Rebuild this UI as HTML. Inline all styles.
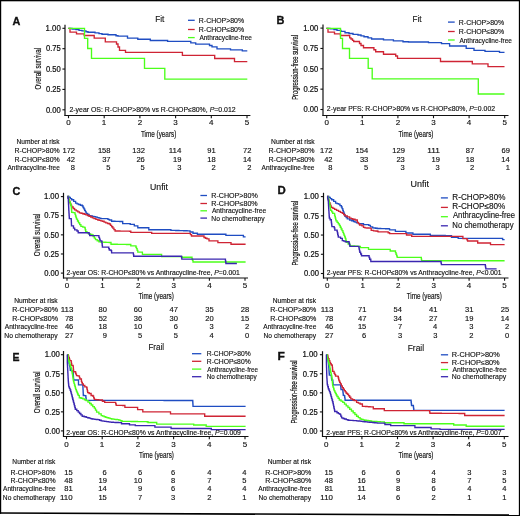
<!DOCTYPE html>
<html><head><meta charset="utf-8"><style>
html,body{margin:0;padding:0;background:#fff;}
body{width:520px;height:516px;overflow:hidden;position:relative;}
svg{position:absolute;left:0;top:0;}
text{font-family:"Liberation Sans",sans-serif;fill:#111;stroke:#111;stroke-width:0.14px;}
.ax{stroke-width:0.18px;}
.lt{stroke-width:0.35px;}
.tk{stroke-width:0.22px;}
.ax2{stroke-width:0.2px;}
</style></head><body>
<svg width="520" height="516" viewBox="0 0 520 516">
<g>
<rect x="0" y="0" width="520" height="516" fill="#fff"/>
<line x1="65.00" y1="24.80" x2="65.00" y2="116.00" stroke="#111" stroke-width="1.2"/>
<line x1="64.50" y1="115.50" x2="250.40" y2="115.50" stroke="#111" stroke-width="1.2"/>
<line x1="62.40" y1="109.80" x2="65.00" y2="109.80" stroke="#111" stroke-width="1.1"/>
<line x1="62.40" y1="89.42" x2="65.00" y2="89.42" stroke="#111" stroke-width="1.1"/>
<line x1="62.40" y1="69.05" x2="65.00" y2="69.05" stroke="#111" stroke-width="1.1"/>
<line x1="62.40" y1="48.67" x2="65.00" y2="48.67" stroke="#111" stroke-width="1.1"/>
<line x1="62.40" y1="28.30" x2="65.00" y2="28.30" stroke="#111" stroke-width="1.1"/>
<line x1="68.50" y1="115.50" x2="68.50" y2="118.20" stroke="#111" stroke-width="1.1"/>
<line x1="104.20" y1="115.50" x2="104.20" y2="118.20" stroke="#111" stroke-width="1.1"/>
<line x1="139.90" y1="115.50" x2="139.90" y2="118.20" stroke="#111" stroke-width="1.1"/>
<line x1="175.60" y1="115.50" x2="175.60" y2="118.20" stroke="#111" stroke-width="1.1"/>
<line x1="211.30" y1="115.50" x2="211.30" y2="118.20" stroke="#111" stroke-width="1.1"/>
<line x1="247.00" y1="115.50" x2="247.00" y2="118.20" stroke="#111" stroke-width="1.1"/>
<line x1="188.00" y1="20.30" x2="194.70" y2="20.30" stroke="#1f4dc2" stroke-width="1.3"/>
<line x1="188.00" y1="29.50" x2="194.70" y2="29.50" stroke="#cf2434" stroke-width="1.3"/>
<line x1="188.00" y1="37.60" x2="194.70" y2="37.60" stroke="#4cff1a" stroke-width="1.3"/>
<path d="M68.4 28.4 H72 V29 H76 V29.6 H79 V30.4 H82 V30.9 H86 V31.7 H88 V32.2 H95 V32.8 H99 V33.6 H102 V34.2 H108 V34.7 H116 V35.7 H118 V36.1 H127.5 V38.1 H137.8 V39.2 H150.3 V40.5 H167.6 V41.3 H190.8 V42.8 H195.7 V44.1 H209.5 V45.5 H212 V46.8 H217 V48.8 H230.5 V49.9 H242.3 V50.9 H247.3" stroke="#1f4dc2" stroke-width="1.35" fill="none"/>
<path d="M68.4 28.4 H70 V32.1 H76.5 V33.8 H84.2 V35.5 H94.2 V38.1 H105.3 V41.9 H116.5 V44 H118 V47 H119.5 V50.3 H125.5 V52.4 H182.4 V55.3 H214.7 V58.5 H234.5 V61.6 H247.3" stroke="#cf2434" stroke-width="1.35" fill="none"/>
<path d="M68.4 28.4 H84.5 V38.4 H87.7 V48.5 H91.5 V58.4 H144.5 V68.4 H164.8 V79.1 H247.3" stroke="#4cff1a" stroke-width="1.35" fill="none"/>
<line x1="323.00" y1="24.50" x2="323.00" y2="116.00" stroke="#111" stroke-width="1.2"/>
<line x1="322.50" y1="115.50" x2="508.50" y2="115.50" stroke="#111" stroke-width="1.2"/>
<line x1="320.40" y1="109.50" x2="323.00" y2="109.50" stroke="#111" stroke-width="1.1"/>
<line x1="320.40" y1="89.15" x2="323.00" y2="89.15" stroke="#111" stroke-width="1.1"/>
<line x1="320.40" y1="68.80" x2="323.00" y2="68.80" stroke="#111" stroke-width="1.1"/>
<line x1="320.40" y1="48.45" x2="323.00" y2="48.45" stroke="#111" stroke-width="1.1"/>
<line x1="320.40" y1="28.10" x2="323.00" y2="28.10" stroke="#111" stroke-width="1.1"/>
<line x1="326.70" y1="115.50" x2="326.70" y2="118.20" stroke="#111" stroke-width="1.1"/>
<line x1="362.30" y1="115.50" x2="362.30" y2="118.20" stroke="#111" stroke-width="1.1"/>
<line x1="397.90" y1="115.50" x2="397.90" y2="118.20" stroke="#111" stroke-width="1.1"/>
<line x1="433.50" y1="115.50" x2="433.50" y2="118.20" stroke="#111" stroke-width="1.1"/>
<line x1="469.10" y1="115.50" x2="469.10" y2="118.20" stroke="#111" stroke-width="1.1"/>
<line x1="504.70" y1="115.50" x2="504.70" y2="118.20" stroke="#111" stroke-width="1.1"/>
<line x1="448.00" y1="22.10" x2="454.70" y2="22.10" stroke="#1f4dc2" stroke-width="1.3"/>
<line x1="448.00" y1="31.50" x2="454.70" y2="31.50" stroke="#cf2434" stroke-width="1.3"/>
<line x1="448.00" y1="40.00" x2="454.70" y2="40.00" stroke="#4cff1a" stroke-width="1.3"/>
<path d="M326.4 28.4 H330 V28.8 H334 V29.5 H337 V30.3 H341 V31.3 H345 V32.7 H349 V33.5 H353 V34.4 H358 V35 H361 V35.8 H364 V36.7 H368 V37.8 H371.6 V39 H383.5 V39.9 H393.4 V40.9 H403 V41.7 H408.5 V42 H428.5 V42.6 H441.5 V43.6 H449.6 V46 H466.2 V48.3 H474 V50.4 H485 V51.4 H499.5 V52.4 H504.5" stroke="#1f4dc2" stroke-width="1.35" fill="none"/>
<path d="M326.4 28.4 H328 V32.1 H334.5 V33.8 H340.5 V35.5 H349.7 V37.8 H351 V39 H352.5 V40.3 H353.7 V41.5 H359.5 V43.5 H361 V45.5 H363.5 V47.7 H373.9 V49.7 H375.7 V51.7 H383.5 V54.2 H395.7 V56 H397.5 V58.4 H440.5 V61.5 H472.3 V63.9 H488 V66.6 H504.5" stroke="#cf2434" stroke-width="1.35" fill="none"/>
<path d="M326.4 28.4 H340.5 V38.4 H342.5 V48.5 H349.5 V58.4 H368.2 V68.4 H372.2 V78.9 H478.3 V94 H504.5" stroke="#4cff1a" stroke-width="1.35" fill="none"/>
<line x1="63.50" y1="192.80" x2="63.50" y2="278.50" stroke="#111" stroke-width="1.2"/>
<line x1="63.00" y1="278.00" x2="248.00" y2="278.00" stroke="#111" stroke-width="1.2"/>
<line x1="60.90" y1="273.10" x2="63.50" y2="273.10" stroke="#111" stroke-width="1.1"/>
<line x1="60.90" y1="253.98" x2="63.50" y2="253.98" stroke="#111" stroke-width="1.1"/>
<line x1="60.90" y1="234.85" x2="63.50" y2="234.85" stroke="#111" stroke-width="1.1"/>
<line x1="60.90" y1="215.72" x2="63.50" y2="215.72" stroke="#111" stroke-width="1.1"/>
<line x1="60.90" y1="196.60" x2="63.50" y2="196.60" stroke="#111" stroke-width="1.1"/>
<line x1="67.00" y1="278.00" x2="67.00" y2="280.70" stroke="#111" stroke-width="1.1"/>
<line x1="102.60" y1="278.00" x2="102.60" y2="280.70" stroke="#111" stroke-width="1.1"/>
<line x1="138.20" y1="278.00" x2="138.20" y2="280.70" stroke="#111" stroke-width="1.1"/>
<line x1="173.80" y1="278.00" x2="173.80" y2="280.70" stroke="#111" stroke-width="1.1"/>
<line x1="209.40" y1="278.00" x2="209.40" y2="280.70" stroke="#111" stroke-width="1.1"/>
<line x1="245.00" y1="278.00" x2="245.00" y2="280.70" stroke="#111" stroke-width="1.1"/>
<line x1="200.40" y1="195.50" x2="207.00" y2="195.50" stroke="#1f4dc2" stroke-width="1.3"/>
<line x1="200.40" y1="203.50" x2="207.00" y2="203.50" stroke="#cf2434" stroke-width="1.3"/>
<line x1="200.40" y1="210.80" x2="207.00" y2="210.80" stroke="#4cff1a" stroke-width="1.3"/>
<line x1="200.40" y1="218.10" x2="207.00" y2="218.10" stroke="#3a26b0" stroke-width="1.3"/>
<path d="M67.50 196.30 H68.90 V197.43 H70.30 V198.57 H71.70 V199.70 H73.65 V201.40 H75.60 V203.10 H77.05 V203.80 H78.50 V204.50 H80.40 V205.25 H82.30 V206.00 H83.08 V207.46 H83.86 V208.92 H84.64 V210.38 H85.42 V211.84 H86.20 V213.30 H87.65 V214.50 H89.10 V215.70 H90.73 V216.00 H92.37 V216.30 H94.00 V216.60 H95.70 V217.10 H97.40 V217.60 H99.10 V218.10 H100.80 V218.60 H106.60 H107.95 V219.30 H109.30 V220.00 H111.60 V221.20 H113.25 V221.25 H114.90 V221.30 H116.55 V221.35 H118.20 V221.40 H119.85 V221.45 H121.50 V221.50 H122.70 V223.60 H129.60 H130.20 V224.40 H133.10 H134.30 V225.90 H136.60 H137.80 V227.70 H147.10 H148.80 V229.70 H169.20 H170.90 V230.30 H172.51 V230.35 H174.12 V230.41 H175.73 V230.46 H177.34 V230.52 H178.95 V230.57 H180.55 V230.63 H182.16 V230.68 H183.77 V230.74 H185.38 V230.79 H186.99 V230.85 H188.60 V230.90 H190.00 V232.00 H192.30 H193.00 V233.20 H195.90 H197.40 V234.20 H225.20 H225.90 V235.40 H242.70 H243.40 V236.90 H245.60" stroke="#1f4dc2" stroke-width="1.35" fill="none"/>
<path d="M67.50 196.30 H68.08 V197.88 H68.65 V199.45 H69.22 V201.03 H69.80 V202.60 H70.43 V204.07 H71.07 V205.53 H71.70 V207.00 H73.15 V208.45 H74.60 V209.90 H76.20 V210.87 H77.80 V211.83 H79.40 V212.80 H81.03 V213.27 H82.67 V213.73 H84.30 V214.20 H85.90 V214.87 H87.50 V215.53 H89.10 V216.20 H90.73 V217.00 H92.37 V217.80 H94.00 V218.60 H95.90 V219.30 H97.80 V220.00 H99.33 V220.40 H100.87 V220.80 H102.40 V221.20 H104.10 V222.05 H105.80 V222.90 H107.55 V223.45 H109.30 V224.00 H110.47 V225.37 H111.63 V226.73 H112.80 V228.10 H113.95 V229.55 H115.10 V231.00 H116.71 V231.02 H118.32 V231.04 H119.93 V231.07 H121.54 V231.09 H123.16 V231.11 H124.77 V231.13 H126.38 V231.16 H127.99 V231.18 H129.60 V231.20 H130.80 V232.30 H151.10 H151.70 V233.30 H189.40 H190.45 V234.65 H191.50 V236.00 H202.50 H204.00 V237.50 H205.50 V238.20 H207.00 V238.90 H209.00 V240.80 H217.10 H217.90 V242.60 H230.30 H231.00 V244.20 H245.60" stroke="#cf2434" stroke-width="1.35" fill="none"/>
<path d="M67.50 196.30 H68.10 V198.07 H68.70 V199.83 H69.30 V201.60 H70.20 V203.60 H70.70 V205.05 H71.20 V206.50 H71.33 V207.95 H71.45 V209.40 H71.58 V210.85 H71.70 V212.30 H73.15 V212.55 H74.60 V212.80 H75.07 V214.38 H75.55 V215.95 H76.03 V217.53 H76.50 V219.10 H77.50 V221.00 H78.50 V222.90 H79.70 V224.60 H80.90 V226.30 H82.85 V227.05 H84.80 V227.80 H85.25 V229.75 H85.70 V231.70 H86.95 V232.65 H88.20 V233.60 H89.10 V233.80 H90.55 V234.40 H92.00 V235.00 H93.17 V236.53 H94.33 V238.07 H95.50 V239.60 H97.20 V240.75 H98.90 V241.90 H100.63 V242.00 H102.37 V242.10 H104.10 V242.20 H105.83 V242.30 H107.57 V242.40 H109.30 V242.50 H111.00 V244.20 H112.55 V244.22 H114.10 V244.25 H115.65 V244.27 H117.20 V244.30 H118.75 V244.32 H120.30 V244.35 H121.85 V244.38 H123.40 V244.40 H124.95 V244.43 H126.50 V244.45 H128.05 V244.47 H129.60 V244.50 H130.80 V245.90 H135.40 H135.95 V247.25 H136.50 V248.60 H137.15 V250.35 H137.80 V252.10 H141.30 H142.40 V254.40 H161.00 H161.60 V256.60 H181.30 H182.00 V257.20 H191.50 H192.00 V258.80 H192.50 V260.40 H193.00 V262.00 H245.60" stroke="#4cff1a" stroke-width="1.35" fill="none"/>
<path d="M67.50 196.30 H67.90 V198.00 H68.30 V199.70 H68.37 V201.21 H68.44 V202.73 H68.51 V204.24 H68.59 V205.76 H68.66 V207.27 H68.73 V208.79 H68.80 V210.30 H68.90 V211.96 H69.00 V213.62 H69.10 V215.28 H69.20 V216.94 H69.30 V218.60 H71.20 V219.10 H71.28 V220.78 H71.35 V222.45 H71.42 V224.12 H71.50 V225.80 H73.50 V228.10 H74.70 V229.80 H77.00 V231.00 H78.20 V232.70 H88.50 H89.10 V234.15 H89.70 V235.60 H98.30 H98.90 V237.33 H99.50 V239.07 H100.10 V240.80 H101.80 V241.90 H102.00 V243.63 H102.20 V245.37 H102.40 V247.10 H108.20 H108.75 V248.55 H109.30 V250.00 H111.00 V250.60 H111.60 V252.90 H133.10 H133.40 V254.55 H133.70 V256.20 H181.30 H181.55 V257.65 H181.80 V259.10 H225.20 H225.43 V260.57 H225.67 V262.03 H225.90 V263.50 H236.90" stroke="#3a26b0" stroke-width="1.35" fill="none"/>
<line x1="323.50" y1="192.80" x2="323.50" y2="278.50" stroke="#111" stroke-width="1.2"/>
<line x1="323.00" y1="278.00" x2="508.50" y2="278.00" stroke="#111" stroke-width="1.2"/>
<line x1="320.90" y1="273.50" x2="323.50" y2="273.50" stroke="#111" stroke-width="1.1"/>
<line x1="320.90" y1="254.28" x2="323.50" y2="254.28" stroke="#111" stroke-width="1.1"/>
<line x1="320.90" y1="235.05" x2="323.50" y2="235.05" stroke="#111" stroke-width="1.1"/>
<line x1="320.90" y1="215.82" x2="323.50" y2="215.82" stroke="#111" stroke-width="1.1"/>
<line x1="320.90" y1="196.60" x2="323.50" y2="196.60" stroke="#111" stroke-width="1.1"/>
<line x1="327.30" y1="278.00" x2="327.30" y2="280.70" stroke="#111" stroke-width="1.1"/>
<line x1="362.75" y1="278.00" x2="362.75" y2="280.70" stroke="#111" stroke-width="1.1"/>
<line x1="398.20" y1="278.00" x2="398.20" y2="280.70" stroke="#111" stroke-width="1.1"/>
<line x1="433.65" y1="278.00" x2="433.65" y2="280.70" stroke="#111" stroke-width="1.1"/>
<line x1="469.10" y1="278.00" x2="469.10" y2="280.70" stroke="#111" stroke-width="1.1"/>
<line x1="504.55" y1="278.00" x2="504.55" y2="280.70" stroke="#111" stroke-width="1.1"/>
<line x1="440.90" y1="197.90" x2="447.90" y2="197.90" stroke="#1f4dc2" stroke-width="1.3"/>
<line x1="440.90" y1="207.40" x2="447.90" y2="207.40" stroke="#cf2434" stroke-width="1.3"/>
<line x1="440.90" y1="216.70" x2="447.90" y2="216.70" stroke="#4cff1a" stroke-width="1.3"/>
<line x1="440.90" y1="225.80" x2="447.90" y2="225.80" stroke="#3a26b0" stroke-width="1.3"/>
<path d="M327.30 196.30 H328.77 V197.43 H330.23 V198.57 H331.70 V199.70 H333.65 V201.40 H335.60 V203.10 H337.05 V203.60 H338.50 V204.10 H339.95 V205.55 H341.40 V207.00 H342.10 V208.65 H342.80 V210.30 H343.35 V211.80 H343.90 V213.30 H344.45 V214.80 H345.00 V216.30 H346.15 V217.55 H347.30 V218.80 H349.60 V220.00 H351.55 V220.75 H353.50 V221.50 H355.00 V222.10 H356.50 V222.70 H358.50 V223.60 H360.40 V223.65 H362.30 V223.70 H363.50 V224.60 H366.50 H368.80 V225.40 H370.40 V226.90 H372.70 V227.80 H374.23 V228.03 H375.77 V228.27 H377.30 V228.50 H378.97 V228.54 H380.64 V228.59 H382.31 V228.63 H383.99 V228.67 H385.66 V228.71 H387.33 V228.76 H389.00 V228.80 H389.60 V229.90 H394.30 H395.40 V231.30 H404.70 H405.90 V233.00 H411.70 H412.90 V234.20 H429.20 H430.30 V235.40 H431.96 V235.42 H433.62 V235.43 H435.27 V235.45 H436.93 V235.47 H438.59 V235.48 H440.25 V235.50 H441.91 V235.52 H443.57 V235.53 H445.23 V235.55 H446.88 V235.57 H448.54 V235.58 H450.20 V235.60 H451.50 V237.20 H456.90 H458.20 V238.30 H502.00 H502.60 V239.60 H504.60" stroke="#1f4dc2" stroke-width="1.35" fill="none"/>
<path d="M327.30 196.30 H327.80 V197.88 H328.30 V199.45 H328.80 V201.03 H329.30 V202.60 H329.93 V204.20 H330.57 V205.80 H331.20 V207.40 H332.90 V208.40 H334.60 V209.40 H336.55 V210.35 H338.50 V211.30 H340.40 V212.30 H342.30 V213.30 H343.65 V214.55 H345.00 V215.80 H347.30 V216.90 H349.60 V218.10 H351.15 V218.65 H352.70 V219.20 H355.00 V220.00 H357.30 V222.30 H358.45 V223.65 H359.60 V225.00 H361.90 V225.80 H363.50 V227.30 H365.00 V227.80 H366.90 V227.95 H368.80 V228.10 H371.20 V230.40 H373.50 V230.80 H375.40 V231.00 H377.30 V231.20 H378.10 V231.90 H386.70 H388.15 V232.75 H389.60 V233.60 H405.30 H406.50 V235.00 H411.10 H411.70 V236.40 H462.30 H462.90 V238.60 H466.30 H466.95 V239.80 H467.60 V241.00 H477.10 H477.70 V243.00 H489.90 H490.50 V244.60 H504.60" stroke="#cf2434" stroke-width="1.35" fill="none"/>
<path d="M327.30 196.30 H327.80 V197.77 H328.30 V199.23 H328.80 V200.70 H329.15 V202.38 H329.50 V204.05 H329.85 V205.72 H330.20 V207.40 H330.45 V208.85 H330.70 V210.30 H331.70 V211.80 H332.70 V213.30 H334.60 V215.20 H334.95 V216.60 H335.30 V218.00 H335.65 V219.40 H336.00 V220.80 H337.13 V222.37 H338.27 V223.93 H339.40 V225.50 H340.27 V227.22 H341.15 V228.95 H342.02 V230.68 H342.90 V232.40 H343.50 V233.88 H344.10 V235.35 H344.70 V236.83 H345.30 V238.30 H345.85 V240.30 H346.40 V242.30 H348.15 V244.05 H349.90 V245.80 H351.45 V245.90 H353.00 V246.00 H354.55 V246.10 H356.10 V246.20 H357.65 V246.30 H359.20 V246.40 H360.40 V247.60 H367.30 H368.50 V249.30 H389.00 H390.20 V251.00 H394.90 H395.47 V252.60 H396.05 V254.20 H396.62 V255.80 H397.20 V257.40 H421.00 H421.30 V259.05 H421.60 V260.70 H504.60" stroke="#4cff1a" stroke-width="1.35" fill="none"/>
<path d="M327.30 196.30 H327.63 V198.07 H327.97 V199.83 H328.30 V201.60 H328.40 V203.34 H328.50 V205.08 H328.60 V206.82 H328.70 V208.56 H328.80 V210.30 H328.90 V211.86 H329.00 V213.42 H329.10 V214.98 H329.20 V216.54 H329.30 V218.10 H330.10 V219.70 H331.30 V222.00 H331.50 V223.53 H331.70 V225.07 H331.90 V226.60 H334.20 V227.80 H334.80 V230.10 H337.10 V231.30 H337.40 V232.75 H337.70 V234.20 H338.00 V235.65 H338.30 V237.10 H340.60 V238.30 H342.30 V240.60 H343.80 V241.15 H345.30 V241.70 H348.70 H349.10 V243.27 H349.50 V244.83 H349.90 V246.40 H358.60 H358.90 V247.85 H359.20 V249.30 H359.50 V250.75 H359.80 V252.20 H360.65 V253.95 H361.50 V255.70 H368.50 H369.10 V257.45 H369.70 V259.20 H370.80 V261.50 H440.70 H441.05 V263.05 H441.40 V264.60 H485.10 H485.33 V266.00 H485.57 V267.40 H485.80 V268.80 H496.60" stroke="#3a26b0" stroke-width="1.35" fill="none"/>
<line x1="63.50" y1="351.00" x2="63.50" y2="437.00" stroke="#111" stroke-width="1.2"/>
<line x1="63.00" y1="436.50" x2="248.50" y2="436.50" stroke="#111" stroke-width="1.2"/>
<line x1="60.90" y1="430.90" x2="63.50" y2="430.90" stroke="#111" stroke-width="1.1"/>
<line x1="60.90" y1="411.85" x2="63.50" y2="411.85" stroke="#111" stroke-width="1.1"/>
<line x1="60.90" y1="392.80" x2="63.50" y2="392.80" stroke="#111" stroke-width="1.1"/>
<line x1="60.90" y1="373.75" x2="63.50" y2="373.75" stroke="#111" stroke-width="1.1"/>
<line x1="60.90" y1="354.70" x2="63.50" y2="354.70" stroke="#111" stroke-width="1.1"/>
<line x1="66.50" y1="436.50" x2="66.50" y2="439.20" stroke="#111" stroke-width="1.1"/>
<line x1="102.20" y1="436.50" x2="102.20" y2="439.20" stroke="#111" stroke-width="1.1"/>
<line x1="137.90" y1="436.50" x2="137.90" y2="439.20" stroke="#111" stroke-width="1.1"/>
<line x1="173.60" y1="436.50" x2="173.60" y2="439.20" stroke="#111" stroke-width="1.1"/>
<line x1="209.30" y1="436.50" x2="209.30" y2="439.20" stroke="#111" stroke-width="1.1"/>
<line x1="245.00" y1="436.50" x2="245.00" y2="439.20" stroke="#111" stroke-width="1.1"/>
<line x1="192.00" y1="353.70" x2="201.30" y2="353.70" stroke="#1f4dc2" stroke-width="1.3"/>
<line x1="192.00" y1="361.30" x2="201.30" y2="361.30" stroke="#cf2434" stroke-width="1.3"/>
<line x1="192.00" y1="369.10" x2="201.30" y2="369.10" stroke="#4cff1a" stroke-width="1.3"/>
<line x1="192.00" y1="376.70" x2="201.30" y2="376.70" stroke="#3a26b0" stroke-width="1.3"/>
<path d="M67.30 354.60 H67.63 V356.30 H67.97 V358.00 H68.30 V359.70 H68.63 V361.40 H68.97 V363.10 H69.30 V364.80 H69.65 V366.15 H70.00 V367.50 H70.15 V368.90 H70.30 V370.30 H71.50 V370.80 H72.70 V371.30 H72.95 V372.75 H73.20 V374.20 H73.30 V375.65 H73.40 V377.10 H73.50 V378.55 H73.60 V380.00 H78.50 V384.80 H82.80 H82.87 V386.33 H82.94 V387.86 H83.01 V389.39 H83.09 V390.91 H83.16 V392.44 H83.23 V393.97 H83.30 V395.50 H84.50 V395.65 H85.70 V395.80 H85.87 V397.30 H86.03 V398.80 H86.20 V400.30 H87.79 V400.30 H89.38 V400.31 H90.97 V400.31 H92.56 V400.31 H94.15 V400.31 H95.74 V400.32 H97.33 V400.32 H98.92 V400.32 H100.51 V400.33 H102.10 V400.33 H103.69 V400.33 H105.27 V400.34 H106.86 V400.34 H108.45 V400.34 H110.04 V400.34 H111.63 V400.35 H113.22 V400.35 H114.81 V400.35 H116.40 V400.36 H117.99 V400.36 H119.58 V400.36 H121.17 V400.37 H122.76 V400.37 H124.35 V400.37 H125.94 V400.37 H127.53 V400.38 H129.12 V400.38 H130.71 V400.38 H132.30 V400.39 H133.89 V400.39 H135.48 V400.39 H137.07 V400.40 H138.66 V400.40 H140.24 V400.40 H141.83 V400.40 H143.42 V400.41 H145.01 V400.41 H146.60 V400.41 H148.19 V400.42 H149.78 V400.42 H151.37 V400.42 H152.96 V400.43 H154.55 V400.43 H156.14 V400.43 H157.73 V400.43 H159.32 V400.44 H160.91 V400.44 H162.50 V400.44 H164.09 V400.45 H165.68 V400.45 H167.27 V400.45 H168.86 V400.46 H170.45 V400.46 H172.04 V400.46 H173.63 V400.46 H175.21 V400.47 H176.80 V400.47 H178.39 V400.47 H179.98 V400.48 H181.57 V400.48 H183.16 V400.48 H184.75 V400.49 H186.34 V400.49 H187.93 V400.49 H189.52 V400.49 H191.11 V400.50 H192.70 V400.50 H192.77 V401.98 H192.85 V403.45 H192.93 V404.92 H193.00 V406.40 H245.60" stroke="#1f4dc2" stroke-width="1.35" fill="none"/>
<path d="M67.80 354.60 H68.30 V356.15 H68.80 V357.70 H69.30 V359.15 H69.80 V360.60 H71.20 V362.10 H71.45 V363.75 H71.70 V365.40 H73.10 V366.40 H73.27 V368.17 H73.43 V369.93 H73.60 V371.70 H75.60 V373.20 H76.05 V374.40 H76.50 V375.60 H77.75 V375.85 H79.00 V376.10 H79.45 V377.55 H79.90 V379.00 H81.40 V381.40 H81.85 V382.65 H82.30 V383.90 H83.30 V385.30 H84.80 V386.80 H86.70 V387.70 H87.03 V389.33 H87.37 V390.97 H87.70 V392.60 H89.10 V393.50 H91.10 V395.50 H93.00 V396.20 H93.65 V397.80 H94.30 V399.40 H95.75 V399.55 H97.20 V399.70 H98.65 V399.85 H100.10 V400.00 H102.40 V401.20 H104.70 V402.30 H115.10 H115.65 V403.80 H116.20 V405.30 H117.82 V405.34 H119.44 V405.38 H121.06 V405.42 H122.68 V405.46 H124.30 V405.50 H124.90 V407.30 H137.00 H137.60 V409.60 H142.20 H142.80 V411.80 H169.90 H170.50 V413.90 H204.00 H204.70 V416.20 H245.60" stroke="#cf2434" stroke-width="1.35" fill="none"/>
<path d="M67.80 354.60 H67.97 V356.27 H68.13 V357.93 H68.30 V359.60 H68.80 V361.23 H69.30 V362.87 H69.80 V364.50 H70.28 V365.95 H70.75 V367.40 H71.22 V368.85 H71.70 V370.30 H71.95 V371.75 H72.20 V373.20 H72.45 V374.65 H72.70 V376.10 H72.92 V377.55 H73.15 V379.00 H73.38 V380.45 H73.60 V381.90 H74.04 V383.44 H74.48 V384.98 H74.92 V386.52 H75.36 V388.06 H75.80 V389.60 H76.40 V391.05 H77.00 V392.50 H77.60 V393.95 H78.20 V395.40 H79.30 V397.70 H81.05 V398.25 H82.80 V398.80 H84.50 V399.70 H86.20 V400.60 H87.95 V402.05 H89.70 V403.50 H91.23 V405.03 H92.77 V406.57 H94.30 V408.10 H95.45 V410.10 H96.60 V412.10 H98.90 V413.80 H101.20 V415.60 H102.73 V416.17 H104.27 V416.73 H105.80 V417.30 H107.25 V417.73 H108.70 V418.15 H110.15 V418.57 H111.60 V419.00 H113.05 V419.15 H114.50 V419.30 H115.95 V419.45 H117.40 V419.60 H118.93 V420.17 H120.47 V420.73 H122.00 V421.30 H123.55 V421.32 H125.10 V421.35 H126.65 V421.38 H128.20 V421.40 H129.75 V421.43 H131.30 V421.45 H132.85 V421.48 H134.40 V421.50 H135.95 V421.52 H137.50 V421.55 H139.05 V421.57 H140.60 V421.60 H142.15 V421.62 H143.70 V421.65 H145.25 V421.68 H146.80 V421.70 H148.00 V422.50 H156.10 H156.70 V424.10 H193.00 H193.70 V425.00 H205.40 H206.20 V426.30 H245.60" stroke="#4cff1a" stroke-width="1.35" fill="none"/>
<path d="M67.30 354.60 V362.50 H67.38 V364.12 H67.47 V365.73 H67.55 V367.35 H67.63 V368.97 H67.72 V370.58 H67.80 V372.20 H67.88 V373.82 H67.97 V375.43 H68.05 V377.05 H68.13 V378.67 H68.22 V380.28 H68.30 V381.90 H68.47 V383.53 H68.63 V385.17 H68.80 V386.80 H69.43 V388.40 H70.07 V390.00 H70.70 V391.60 H71.10 V393.13 H71.50 V394.66 H71.90 V396.19 H72.30 V397.71 H72.70 V399.24 H73.10 V400.77 H73.50 V402.30 H73.95 V404.02 H74.40 V405.75 H74.85 V407.48 H75.30 V409.20 H76.75 V410.65 H78.20 V412.10 H79.53 V413.47 H80.87 V414.83 H82.20 V416.20 H84.20 V416.75 H86.20 V417.30 H87.65 V417.73 H89.10 V418.15 H90.55 V418.57 H92.00 V419.00 H93.45 V419.15 H94.90 V419.30 H96.35 V419.45 H97.80 V419.60 H99.50 V420.20 H101.20 V420.80 H102.95 V421.07 H104.70 V421.35 H106.45 V421.62 H108.20 V421.90 H109.92 V422.05 H111.65 V422.20 H113.38 V422.35 H115.10 V422.50 H116.83 V422.53 H118.57 V422.57 H120.30 V422.60 H121.50 V423.70 H128.40 H129.50 V424.80 H134.00 H135.30 V425.60 H153.80 H154.90 V427.10 H168.80 H171.10 V428.50 H210.50 H211.30 V429.60 H245.60" stroke="#3a26b0" stroke-width="1.35" fill="none"/>
<line x1="322.50" y1="351.20" x2="322.50" y2="437.00" stroke="#111" stroke-width="1.2"/>
<line x1="322.00" y1="436.50" x2="508.50" y2="436.50" stroke="#111" stroke-width="1.2"/>
<line x1="319.90" y1="431.00" x2="322.50" y2="431.00" stroke="#111" stroke-width="1.1"/>
<line x1="319.90" y1="411.93" x2="322.50" y2="411.93" stroke="#111" stroke-width="1.1"/>
<line x1="319.90" y1="392.85" x2="322.50" y2="392.85" stroke="#111" stroke-width="1.1"/>
<line x1="319.90" y1="373.77" x2="322.50" y2="373.77" stroke="#111" stroke-width="1.1"/>
<line x1="319.90" y1="354.70" x2="322.50" y2="354.70" stroke="#111" stroke-width="1.1"/>
<line x1="326.30" y1="436.50" x2="326.30" y2="439.20" stroke="#111" stroke-width="1.1"/>
<line x1="361.90" y1="436.50" x2="361.90" y2="439.20" stroke="#111" stroke-width="1.1"/>
<line x1="397.50" y1="436.50" x2="397.50" y2="439.20" stroke="#111" stroke-width="1.1"/>
<line x1="433.10" y1="436.50" x2="433.10" y2="439.20" stroke="#111" stroke-width="1.1"/>
<line x1="468.70" y1="436.50" x2="468.70" y2="439.20" stroke="#111" stroke-width="1.1"/>
<line x1="504.30" y1="436.50" x2="504.30" y2="439.20" stroke="#111" stroke-width="1.1"/>
<line x1="440.90" y1="354.80" x2="448.10" y2="354.80" stroke="#1f4dc2" stroke-width="1.3"/>
<line x1="440.90" y1="362.60" x2="448.10" y2="362.60" stroke="#cf2434" stroke-width="1.3"/>
<line x1="440.90" y1="369.50" x2="448.10" y2="369.50" stroke="#4cff1a" stroke-width="1.3"/>
<line x1="440.90" y1="376.70" x2="448.10" y2="376.70" stroke="#3a26b0" stroke-width="1.3"/>
<path d="M326.40 354.60 H326.85 V356.15 H327.30 V357.70 H327.63 V359.30 H327.97 V360.90 H328.30 V362.50 H328.47 V364.13 H328.63 V365.77 H328.80 V367.40 H328.90 V368.94 H329.00 V370.48 H329.10 V372.02 H329.20 V373.56 H329.30 V375.10 H331.20 V375.60 H331.37 V377.07 H331.53 V378.53 H331.70 V380.00 H332.70 V381.00 H332.90 V382.90 H333.10 V384.80 H340.50 H340.67 V386.40 H340.83 V388.00 H341.00 V389.60 H342.80 V390.80 H342.97 V392.33 H343.13 V393.87 H343.30 V395.40 H344.50 V396.00 H344.70 V397.40 H344.90 V398.80 H345.10 V400.20 H410.90 H411.10 V401.97 H411.30 V403.73 H411.50 V405.50 H413.20 H413.40 V407.13 H413.60 V408.77 H413.80 V410.40 H504.60" stroke="#1f4dc2" stroke-width="1.35" fill="none"/>
<path d="M327.30 354.60 H327.63 V355.97 H327.97 V357.33 H328.30 V358.70 H329.05 V360.60 H329.80 V362.50 H330.50 V363.75 H331.20 V365.00 H332.20 V365.90 H332.37 V367.70 H332.53 V369.50 H332.70 V371.30 H334.10 V373.20 H334.85 V374.65 H335.60 V376.10 H338.00 V376.60 H338.33 V378.03 H338.67 V379.47 H339.00 V380.90 H339.70 V382.40 H340.40 V383.90 H341.35 V385.80 H342.30 V387.70 H343.30 V389.15 H344.30 V390.60 H345.25 V391.90 H346.20 V393.20 H347.40 V394.20 H348.53 V395.73 H349.67 V397.27 H350.80 V398.80 H352.55 V399.70 H354.30 V400.60 H356.60 V402.30 H358.35 V403.15 H360.10 V404.00 H362.40 V406.30 H363.93 V406.40 H365.47 V406.50 H367.00 V406.60 H368.53 V406.70 H370.07 V406.80 H371.60 V406.90 H373.30 V408.70 H383.80 H384.30 V410.60 H429.30 H429.60 V411.90 H429.90 V413.20 H431.52 V413.21 H433.15 V413.23 H434.77 V413.24 H436.40 V413.26 H438.02 V413.27 H439.64 V413.29 H441.27 V413.30 H442.89 V413.31 H444.51 V413.33 H446.14 V413.34 H447.76 V413.36 H449.39 V413.37 H451.01 V413.39 H452.63 V413.40 H454.26 V413.41 H455.88 V413.43 H457.50 V413.44 H459.13 V413.46 H460.75 V413.47 H462.38 V413.49 H464.00 V413.50 H464.70 V415.50 H504.60" stroke="#cf2434" stroke-width="1.35" fill="none"/>
<path d="M326.80 354.60 H327.13 V356.27 H327.47 V357.93 H327.80 V359.60 H328.18 V361.05 H328.55 V362.50 H328.93 V363.95 H329.30 V365.40 H329.65 V367.10 H330.00 V368.80 H330.35 V370.50 H330.70 V372.20 H331.03 V373.83 H331.37 V375.47 H331.70 V377.10 H331.95 V379.00 H332.20 V380.90 H332.37 V382.53 H332.53 V384.17 H332.70 V385.80 H333.17 V387.40 H333.63 V389.00 H334.10 V390.60 H334.80 V392.05 H335.50 V393.50 H336.25 V395.00 H337.00 V396.50 H338.15 V398.25 H339.30 V400.00 H341.05 V401.15 H342.80 V402.30 H344.50 V404.05 H346.20 V405.80 H347.95 V407.50 H349.70 V409.20 H351.45 V410.95 H353.20 V412.70 H354.90 V414.45 H356.60 V416.20 H358.35 V417.60 H360.10 V419.00 H361.63 V419.40 H363.17 V419.80 H364.70 V420.20 H366.43 V420.48 H368.15 V420.75 H369.88 V421.02 H371.60 V421.30 H373.33 V421.40 H375.07 V421.50 H376.80 V421.60 H378.53 V421.70 H380.27 V421.80 H382.00 V421.90 H383.80 H384.30 V422.70 H402.80 H404.00 V423.70 H453.00 H453.70 V425.00 H465.40 H466.20 V426.20 H504.60" stroke="#4cff1a" stroke-width="1.35" fill="none"/>
<path d="M326.40 354.60 V362.50 H326.44 V364.12 H326.49 V365.74 H326.53 V367.37 H326.58 V368.99 H326.62 V370.61 H326.67 V372.23 H326.71 V373.86 H326.76 V375.48 H326.80 V377.10 H326.90 V378.64 H327.00 V380.18 H327.10 V381.72 H327.20 V383.26 H327.30 V384.80 H327.80 V386.75 H328.30 V388.70 H328.90 V390.17 H329.50 V391.63 H330.10 V393.10 H330.58 V394.83 H331.07 V396.57 H331.55 V398.30 H332.03 V400.03 H332.52 V401.77 H333.00 V403.50 H333.34 V405.10 H333.68 V406.70 H334.02 V408.30 H334.36 V409.90 H334.70 V411.50 H337.00 V412.70 H338.45 V413.55 H339.90 V414.40 H340.75 V416.15 H341.60 V417.90 H343.05 V418.45 H344.50 V419.00 H346.25 V419.60 H348.00 V420.20 H349.72 V420.32 H351.44 V420.44 H353.16 V420.56 H354.88 V420.68 H356.60 V420.80 H358.13 V420.98 H359.67 V421.17 H361.20 V421.35 H362.73 V421.53 H364.27 V421.72 H365.80 V421.90 H367.55 V422.05 H369.30 V422.20 H371.05 V422.35 H372.80 V422.50 H374.33 V422.70 H375.87 V422.90 H377.40 V423.10 H383.80 H384.90 V424.50 H389.50 H390.70 V425.60 H413.80 H414.90 V427.50 H429.90 H431.10 V428.80 H438.00 H440.00 V429.40 H504.60" stroke="#3a26b0" stroke-width="1.35" fill="none"/>
<g style="filter:grayscale(1)">
<text x="12.43" y="24.80" font-size="11.8" textLength="7.86" lengthAdjust="spacingAndGlyphs" font-weight="bold" class="lt">A</text>
<text x="155.23" y="21.90" font-size="9.5" textLength="9.13" lengthAdjust="spacingAndGlyphs">Fit</text>
<text x="45.90" y="112.55" font-size="8.2" textLength="14.79" lengthAdjust="spacingAndGlyphs" class="tk">0.00</text>
<text x="45.90" y="92.17" font-size="8.2" textLength="14.82" lengthAdjust="spacingAndGlyphs" class="tk">0.25</text>
<text x="45.90" y="71.80" font-size="8.2" textLength="14.79" lengthAdjust="spacingAndGlyphs" class="tk">0.50</text>
<text x="45.90" y="51.42" font-size="8.2" textLength="14.82" lengthAdjust="spacingAndGlyphs" class="tk">0.75</text>
<text x="45.61" y="31.05" font-size="8.2" textLength="15.09" lengthAdjust="spacingAndGlyphs" class="tk">1.00</text>
<text x="66.26" y="124.95" font-size="7.0" textLength="4.48" lengthAdjust="spacingAndGlyphs">0</text>
<text x="101.85" y="124.95" font-size="7.0" textLength="4.48" lengthAdjust="spacingAndGlyphs">1</text>
<text x="137.66" y="124.95" font-size="7.0" textLength="4.48" lengthAdjust="spacingAndGlyphs">2</text>
<text x="173.39" y="124.95" font-size="7.0" textLength="4.48" lengthAdjust="spacingAndGlyphs">3</text>
<text x="209.09" y="124.95" font-size="7.0" textLength="4.48" lengthAdjust="spacingAndGlyphs">4</text>
<text x="244.77" y="124.95" font-size="7.0" textLength="4.48" lengthAdjust="spacingAndGlyphs">5</text>
<text x="140.96" y="136.60" font-size="8.4" textLength="35.33" lengthAdjust="spacingAndGlyphs" class="ax">Time (years)</text>
<text class="ax" x="40.70" y="68.75" font-size="8.6" text-anchor="middle" textLength="41.60" lengthAdjust="spacingAndGlyphs" transform="rotate(-90 40.70 68.75)">Overall survival</text>
<text x="198.83" y="22.82" font-size="7" textLength="45.32" lengthAdjust="spacingAndGlyphs">R-CHOP&gt;80%</text>
<text x="198.83" y="32.02" font-size="7" textLength="45.32" lengthAdjust="spacingAndGlyphs">R-CHOP≤80%</text>
<text x="199.39" y="40.12" font-size="7" textLength="52.60" lengthAdjust="spacingAndGlyphs">Anthracycline-free</text>
<text x="69.45" y="111.85" font-size="6.8" textLength="166.20" lengthAdjust="spacingAndGlyphs">2-year OS: R-CHOP&gt;80% vs R-CHOP≤80%, <tspan font-style="italic">P</tspan>=0.012</text>
<text x="16.56" y="144.20" font-size="6.8" textLength="42.93" lengthAdjust="spacingAndGlyphs">Number at risk</text>
<text x="14.53" y="153.40" font-size="6.8" textLength="45.21" lengthAdjust="spacingAndGlyphs">R-CHOP&gt;80%</text>
<text x="62.47" y="153.40" font-size="7.0" textLength="12.61" lengthAdjust="spacingAndGlyphs">172</text>
<text x="97.92" y="153.40" font-size="7.0" textLength="12.61" lengthAdjust="spacingAndGlyphs">158</text>
<text x="132.27" y="153.40" font-size="7.0" textLength="12.61" lengthAdjust="spacingAndGlyphs">132</text>
<text x="168.71" y="153.40" font-size="7.0" textLength="12.61" lengthAdjust="spacingAndGlyphs">114</text>
<text x="207.26" y="153.40" font-size="7.0" textLength="8.41" lengthAdjust="spacingAndGlyphs">91</text>
<text x="243.07" y="153.40" font-size="7.0" textLength="8.41" lengthAdjust="spacingAndGlyphs">72</text>
<text x="14.53" y="161.80" font-size="6.8" textLength="45.22" lengthAdjust="spacingAndGlyphs">R-CHOP≤80%</text>
<text x="66.67" y="161.80" font-size="7.0" textLength="8.41" lengthAdjust="spacingAndGlyphs">42</text>
<text x="102.17" y="161.80" font-size="7.0" textLength="8.41" lengthAdjust="spacingAndGlyphs">37</text>
<text x="136.42" y="161.80" font-size="7.0" textLength="8.41" lengthAdjust="spacingAndGlyphs">26</text>
<text x="173.05" y="161.80" font-size="7.0" textLength="8.41" lengthAdjust="spacingAndGlyphs">19</text>
<text x="207.22" y="161.80" font-size="7.0" textLength="8.41" lengthAdjust="spacingAndGlyphs">18</text>
<text x="242.91" y="161.80" font-size="7.0" textLength="8.41" lengthAdjust="spacingAndGlyphs">14</text>
<text x="7.49" y="170.10" font-size="6.8" textLength="52.30" lengthAdjust="spacingAndGlyphs">Anthracycline-free</text>
<text x="70.82" y="170.10" font-size="7.0" textLength="4.20" lengthAdjust="spacingAndGlyphs">8</text>
<text x="106.31" y="170.10" font-size="7.0" textLength="4.20" lengthAdjust="spacingAndGlyphs">5</text>
<text x="140.61" y="170.10" font-size="7.0" textLength="4.20" lengthAdjust="spacingAndGlyphs">5</text>
<text x="177.23" y="170.10" font-size="7.0" textLength="4.20" lengthAdjust="spacingAndGlyphs">3</text>
<text x="211.48" y="170.10" font-size="7.0" textLength="4.20" lengthAdjust="spacingAndGlyphs">2</text>
<text x="247.28" y="170.10" font-size="7.0" textLength="4.20" lengthAdjust="spacingAndGlyphs">2</text>
<text x="276.47" y="23.80" font-size="11.8" textLength="7.93" lengthAdjust="spacingAndGlyphs" font-weight="bold" class="lt">B</text>
<text x="412.53" y="21.90" font-size="9.5" textLength="9.03" lengthAdjust="spacingAndGlyphs">Fit</text>
<text x="303.50" y="112.25" font-size="8.2" textLength="14.79" lengthAdjust="spacingAndGlyphs" class="tk">0.00</text>
<text x="303.50" y="91.90" font-size="8.2" textLength="14.82" lengthAdjust="spacingAndGlyphs" class="tk">0.25</text>
<text x="303.50" y="71.55" font-size="8.2" textLength="14.79" lengthAdjust="spacingAndGlyphs" class="tk">0.50</text>
<text x="303.50" y="51.20" font-size="8.2" textLength="14.82" lengthAdjust="spacingAndGlyphs" class="tk">0.75</text>
<text x="303.21" y="30.85" font-size="8.2" textLength="15.09" lengthAdjust="spacingAndGlyphs" class="tk">1.00</text>
<text x="324.46" y="124.95" font-size="7.0" textLength="4.48" lengthAdjust="spacingAndGlyphs">0</text>
<text x="359.95" y="124.95" font-size="7.0" textLength="4.48" lengthAdjust="spacingAndGlyphs">1</text>
<text x="395.66" y="124.95" font-size="7.0" textLength="4.48" lengthAdjust="spacingAndGlyphs">2</text>
<text x="431.29" y="124.95" font-size="7.0" textLength="4.48" lengthAdjust="spacingAndGlyphs">3</text>
<text x="466.89" y="124.95" font-size="7.0" textLength="4.48" lengthAdjust="spacingAndGlyphs">4</text>
<text x="502.47" y="124.95" font-size="7.0" textLength="4.48" lengthAdjust="spacingAndGlyphs">5</text>
<text x="398.46" y="136.60" font-size="8.4" textLength="34.93" lengthAdjust="spacingAndGlyphs" class="ax">Time (years)</text>
<text class="ax2" x="297.70" y="67.40" font-size="8.2" text-anchor="middle" textLength="64.87" lengthAdjust="spacingAndGlyphs" transform="rotate(-90 297.70 67.40)">Progression-free survival</text>
<text x="458.83" y="24.62" font-size="7" textLength="45.32" lengthAdjust="spacingAndGlyphs">R-CHOP&gt;80%</text>
<text x="458.83" y="34.02" font-size="7" textLength="45.32" lengthAdjust="spacingAndGlyphs">R-CHOP≤80%</text>
<text x="459.39" y="42.52" font-size="7" textLength="52.60" lengthAdjust="spacingAndGlyphs">Anthracycline-free</text>
<text x="326.85" y="111.45" font-size="6.8" textLength="168.19" lengthAdjust="spacingAndGlyphs">2-year PFS: R-CHOP&gt;80% vs R-CHOP≤80%, <tspan font-style="italic">P</tspan>=0.002</text>
<text x="271.05" y="144.20" font-size="6.8" textLength="43.64" lengthAdjust="spacingAndGlyphs">Number at risk</text>
<text x="268.52" y="153.40" font-size="6.8" textLength="45.93" lengthAdjust="spacingAndGlyphs">R-CHOP&gt;80%</text>
<text x="319.97" y="153.40" font-size="7.0" textLength="12.61" lengthAdjust="spacingAndGlyphs">172</text>
<text x="355.61" y="153.40" font-size="7.0" textLength="12.61" lengthAdjust="spacingAndGlyphs">154</text>
<text x="392.24" y="153.40" font-size="7.0" textLength="12.61" lengthAdjust="spacingAndGlyphs">129</text>
<text x="427.26" y="153.40" font-size="7.0" textLength="12.61" lengthAdjust="spacingAndGlyphs">111</text>
<text x="465.87" y="153.40" font-size="7.0" textLength="8.41" lengthAdjust="spacingAndGlyphs">87</text>
<text x="501.45" y="153.40" font-size="7.0" textLength="8.41" lengthAdjust="spacingAndGlyphs">69</text>
<text x="268.52" y="161.80" font-size="6.8" textLength="45.93" lengthAdjust="spacingAndGlyphs">R-CHOP≤80%</text>
<text x="324.17" y="161.80" font-size="7.0" textLength="8.41" lengthAdjust="spacingAndGlyphs">42</text>
<text x="359.92" y="161.80" font-size="7.0" textLength="8.41" lengthAdjust="spacingAndGlyphs">33</text>
<text x="396.42" y="161.80" font-size="7.0" textLength="8.41" lengthAdjust="spacingAndGlyphs">23</text>
<text x="431.45" y="161.80" font-size="7.0" textLength="8.41" lengthAdjust="spacingAndGlyphs">19</text>
<text x="465.82" y="161.80" font-size="7.0" textLength="8.41" lengthAdjust="spacingAndGlyphs">18</text>
<text x="501.31" y="161.80" font-size="7.0" textLength="8.41" lengthAdjust="spacingAndGlyphs">14</text>
<text x="261.59" y="170.10" font-size="6.8" textLength="52.90" lengthAdjust="spacingAndGlyphs">Anthracycline-free</text>
<text x="328.32" y="170.10" font-size="7.0" textLength="4.20" lengthAdjust="spacingAndGlyphs">8</text>
<text x="364.11" y="170.10" font-size="7.0" textLength="4.20" lengthAdjust="spacingAndGlyphs">5</text>
<text x="400.63" y="170.10" font-size="7.0" textLength="4.20" lengthAdjust="spacingAndGlyphs">3</text>
<text x="435.63" y="170.10" font-size="7.0" textLength="4.20" lengthAdjust="spacingAndGlyphs">3</text>
<text x="470.08" y="170.10" font-size="7.0" textLength="4.20" lengthAdjust="spacingAndGlyphs">2</text>
<text x="505.66" y="170.10" font-size="7.0" textLength="4.20" lengthAdjust="spacingAndGlyphs">1</text>
<text x="12.45" y="195.40" font-size="11.8" textLength="7.84" lengthAdjust="spacingAndGlyphs" font-weight="bold" class="lt">C</text>
<text x="150.03" y="189.80" font-size="9.5" textLength="17.94" lengthAdjust="spacingAndGlyphs">Unfit</text>
<text x="44.20" y="275.85" font-size="8.2" textLength="14.79" lengthAdjust="spacingAndGlyphs" class="tk">0.00</text>
<text x="44.20" y="256.73" font-size="8.2" textLength="14.82" lengthAdjust="spacingAndGlyphs" class="tk">0.25</text>
<text x="44.20" y="237.60" font-size="8.2" textLength="14.79" lengthAdjust="spacingAndGlyphs" class="tk">0.50</text>
<text x="44.20" y="218.47" font-size="8.2" textLength="14.82" lengthAdjust="spacingAndGlyphs" class="tk">0.75</text>
<text x="43.91" y="199.35" font-size="8.2" textLength="15.09" lengthAdjust="spacingAndGlyphs" class="tk">1.00</text>
<text x="64.76" y="287.65" font-size="7.0" textLength="4.48" lengthAdjust="spacingAndGlyphs">0</text>
<text x="100.25" y="287.65" font-size="7.0" textLength="4.48" lengthAdjust="spacingAndGlyphs">1</text>
<text x="135.96" y="287.65" font-size="7.0" textLength="4.48" lengthAdjust="spacingAndGlyphs">2</text>
<text x="171.59" y="287.65" font-size="7.0" textLength="4.48" lengthAdjust="spacingAndGlyphs">3</text>
<text x="207.19" y="287.65" font-size="7.0" textLength="4.48" lengthAdjust="spacingAndGlyphs">4</text>
<text x="242.77" y="287.65" font-size="7.0" textLength="4.48" lengthAdjust="spacingAndGlyphs">5</text>
<text x="138.46" y="298.60" font-size="8.4" textLength="35.43" lengthAdjust="spacingAndGlyphs" class="ax">Time (years)</text>
<text class="ax" x="40.20" y="234.90" font-size="8.6" text-anchor="middle" textLength="42.71" lengthAdjust="spacingAndGlyphs" transform="rotate(-90 40.20 234.90)">Overall survival</text>
<text x="211.32" y="198.02" font-size="7" textLength="46.44" lengthAdjust="spacingAndGlyphs">R-CHOP&gt;80%</text>
<text x="211.31" y="206.02" font-size="7" textLength="46.44" lengthAdjust="spacingAndGlyphs">R-CHOP≤80%</text>
<text x="211.89" y="213.32" font-size="7" textLength="54.31" lengthAdjust="spacingAndGlyphs">Anthracycline-free</text>
<text x="211.35" y="220.62" font-size="7" textLength="53.37" lengthAdjust="spacingAndGlyphs">No chemotherapy</text>
<text x="66.46" y="275.25" font-size="6.8" textLength="173.37" lengthAdjust="spacingAndGlyphs">2-year OS: R-CHOP≤80% vs Anthracycline-free, <tspan font-style="italic">P</tspan>=0.001</text>
<text x="14.25" y="302.60" font-size="6.8" textLength="43.44" lengthAdjust="spacingAndGlyphs">Number at risk</text>
<text x="12.23" y="311.90" font-size="6.8" textLength="45.72" lengthAdjust="spacingAndGlyphs">R-CHOP&gt;80%</text>
<text x="60.72" y="311.90" font-size="7.0" textLength="12.61" lengthAdjust="spacingAndGlyphs">113</text>
<text x="98.59" y="311.90" font-size="7.0" textLength="8.41" lengthAdjust="spacingAndGlyphs">80</text>
<text x="133.69" y="311.90" font-size="7.0" textLength="8.41" lengthAdjust="spacingAndGlyphs">60</text>
<text x="169.57" y="311.90" font-size="7.0" textLength="8.41" lengthAdjust="spacingAndGlyphs">47</text>
<text x="205.31" y="311.90" font-size="7.0" textLength="8.41" lengthAdjust="spacingAndGlyphs">35</text>
<text x="240.82" y="311.90" font-size="7.0" textLength="8.41" lengthAdjust="spacingAndGlyphs">28</text>
<text x="12.22" y="320.50" font-size="6.8" textLength="45.73" lengthAdjust="spacingAndGlyphs">R-CHOP≤80%</text>
<text x="64.92" y="320.50" font-size="7.0" textLength="8.41" lengthAdjust="spacingAndGlyphs">78</text>
<text x="98.67" y="320.50" font-size="7.0" textLength="8.41" lengthAdjust="spacingAndGlyphs">52</text>
<text x="133.72" y="320.50" font-size="7.0" textLength="8.41" lengthAdjust="spacingAndGlyphs">36</text>
<text x="169.49" y="320.50" font-size="7.0" textLength="8.41" lengthAdjust="spacingAndGlyphs">30</text>
<text x="205.29" y="320.50" font-size="7.0" textLength="8.41" lengthAdjust="spacingAndGlyphs">20</text>
<text x="240.81" y="320.50" font-size="7.0" textLength="8.41" lengthAdjust="spacingAndGlyphs">15</text>
<text x="4.79" y="328.90" font-size="6.8" textLength="53.21" lengthAdjust="spacingAndGlyphs">Anthracycline-free</text>
<text x="64.92" y="328.90" font-size="7.0" textLength="8.41" lengthAdjust="spacingAndGlyphs">46</text>
<text x="98.62" y="328.90" font-size="7.0" textLength="8.41" lengthAdjust="spacingAndGlyphs">18</text>
<text x="133.69" y="328.90" font-size="7.0" textLength="8.41" lengthAdjust="spacingAndGlyphs">10</text>
<text x="173.73" y="328.90" font-size="7.0" textLength="4.20" lengthAdjust="spacingAndGlyphs">6</text>
<text x="209.53" y="328.90" font-size="7.0" textLength="4.20" lengthAdjust="spacingAndGlyphs">3</text>
<text x="245.08" y="328.90" font-size="7.0" textLength="4.20" lengthAdjust="spacingAndGlyphs">2</text>
<text x="4.24" y="337.50" font-size="6.8" textLength="53.47" lengthAdjust="spacingAndGlyphs">No chemotherapy</text>
<text x="64.97" y="337.50" font-size="7.0" textLength="8.41" lengthAdjust="spacingAndGlyphs">27</text>
<text x="102.85" y="337.50" font-size="7.0" textLength="4.20" lengthAdjust="spacingAndGlyphs">9</text>
<text x="137.91" y="337.50" font-size="7.0" textLength="4.20" lengthAdjust="spacingAndGlyphs">5</text>
<text x="173.71" y="337.50" font-size="7.0" textLength="4.20" lengthAdjust="spacingAndGlyphs">5</text>
<text x="209.42" y="337.50" font-size="7.0" textLength="4.20" lengthAdjust="spacingAndGlyphs">4</text>
<text x="244.99" y="337.50" font-size="7.0" textLength="4.20" lengthAdjust="spacingAndGlyphs">0</text>
<text x="277.54" y="194.00" font-size="11.8" textLength="8.24" lengthAdjust="spacingAndGlyphs" font-weight="bold" class="lt">D</text>
<text x="410.61" y="186.90" font-size="9.5" textLength="18.46" lengthAdjust="spacingAndGlyphs">Unfit</text>
<text x="304.10" y="276.25" font-size="8.2" textLength="14.79" lengthAdjust="spacingAndGlyphs" class="tk">0.00</text>
<text x="304.10" y="257.02" font-size="8.2" textLength="14.82" lengthAdjust="spacingAndGlyphs" class="tk">0.25</text>
<text x="304.10" y="237.80" font-size="8.2" textLength="14.79" lengthAdjust="spacingAndGlyphs" class="tk">0.50</text>
<text x="304.10" y="218.57" font-size="8.2" textLength="14.82" lengthAdjust="spacingAndGlyphs" class="tk">0.75</text>
<text x="303.81" y="199.35" font-size="8.2" textLength="15.09" lengthAdjust="spacingAndGlyphs" class="tk">1.00</text>
<text x="325.06" y="287.65" font-size="7.0" textLength="4.48" lengthAdjust="spacingAndGlyphs">0</text>
<text x="360.40" y="287.65" font-size="7.0" textLength="4.48" lengthAdjust="spacingAndGlyphs">1</text>
<text x="395.96" y="287.65" font-size="7.0" textLength="4.48" lengthAdjust="spacingAndGlyphs">2</text>
<text x="431.44" y="287.65" font-size="7.0" textLength="4.48" lengthAdjust="spacingAndGlyphs">3</text>
<text x="466.89" y="287.65" font-size="7.0" textLength="4.48" lengthAdjust="spacingAndGlyphs">4</text>
<text x="502.32" y="287.65" font-size="7.0" textLength="4.48" lengthAdjust="spacingAndGlyphs">5</text>
<text x="406.66" y="298.50" font-size="8.4" textLength="35.23" lengthAdjust="spacingAndGlyphs" class="ax">Time (years)</text>
<text class="ax2" x="297.70" y="233.10" font-size="8.2" text-anchor="middle" textLength="64.87" lengthAdjust="spacingAndGlyphs" transform="rotate(-90 297.70 233.10)">Progression-free survival</text>
<text x="452.33" y="199.65" font-size="8.3" textLength="53.06" lengthAdjust="spacingAndGlyphs">R-CHOP&gt;80%</text>
<text x="452.33" y="209.15" font-size="8.3" textLength="53.06" lengthAdjust="spacingAndGlyphs">R-CHOP≤80%</text>
<text x="452.98" y="218.45" font-size="8.3" textLength="62.16" lengthAdjust="spacingAndGlyphs">Anthracycline-free</text>
<text x="452.36" y="227.55" font-size="8.3" textLength="61.15" lengthAdjust="spacingAndGlyphs">No chemotherapy</text>
<text x="326.86" y="274.55" font-size="6.8" textLength="174.67" lengthAdjust="spacingAndGlyphs">2-year PFS: R-CHOP≤80% vs Anthracycline-free, <tspan font-style="italic">P</tspan>&lt;0.001</text>
<text x="272.75" y="302.60" font-size="6.8" textLength="43.24" lengthAdjust="spacingAndGlyphs">Number at risk</text>
<text x="270.22" y="311.90" font-size="6.8" textLength="46.03" lengthAdjust="spacingAndGlyphs">R-CHOP&gt;80%</text>
<text x="320.72" y="311.90" font-size="7.0" textLength="12.61" lengthAdjust="spacingAndGlyphs">113</text>
<text x="357.96" y="311.90" font-size="7.0" textLength="8.41" lengthAdjust="spacingAndGlyphs">71</text>
<text x="393.61" y="311.90" font-size="7.0" textLength="8.41" lengthAdjust="spacingAndGlyphs">54</text>
<text x="429.06" y="311.90" font-size="7.0" textLength="8.41" lengthAdjust="spacingAndGlyphs">41</text>
<text x="465.06" y="311.90" font-size="7.0" textLength="8.41" lengthAdjust="spacingAndGlyphs">31</text>
<text x="500.81" y="311.90" font-size="7.0" textLength="8.41" lengthAdjust="spacingAndGlyphs">25</text>
<text x="270.22" y="320.50" font-size="6.8" textLength="46.03" lengthAdjust="spacingAndGlyphs">R-CHOP≤80%</text>
<text x="324.92" y="320.50" font-size="7.0" textLength="8.41" lengthAdjust="spacingAndGlyphs">78</text>
<text x="357.97" y="320.50" font-size="7.0" textLength="8.41" lengthAdjust="spacingAndGlyphs">47</text>
<text x="393.61" y="320.50" font-size="7.0" textLength="8.41" lengthAdjust="spacingAndGlyphs">34</text>
<text x="429.07" y="320.50" font-size="7.0" textLength="8.41" lengthAdjust="spacingAndGlyphs">27</text>
<text x="465.05" y="320.50" font-size="7.0" textLength="8.41" lengthAdjust="spacingAndGlyphs">19</text>
<text x="500.71" y="320.50" font-size="7.0" textLength="8.41" lengthAdjust="spacingAndGlyphs">14</text>
<text x="263.29" y="328.90" font-size="6.8" textLength="53.01" lengthAdjust="spacingAndGlyphs">Anthracycline-free</text>
<text x="324.92" y="328.90" font-size="7.0" textLength="8.41" lengthAdjust="spacingAndGlyphs">46</text>
<text x="357.91" y="328.90" font-size="7.0" textLength="8.41" lengthAdjust="spacingAndGlyphs">15</text>
<text x="397.98" y="328.90" font-size="7.0" textLength="4.20" lengthAdjust="spacingAndGlyphs">7</text>
<text x="433.12" y="328.90" font-size="7.0" textLength="4.20" lengthAdjust="spacingAndGlyphs">4</text>
<text x="469.23" y="328.90" font-size="7.0" textLength="4.20" lengthAdjust="spacingAndGlyphs">3</text>
<text x="505.08" y="328.90" font-size="7.0" textLength="4.20" lengthAdjust="spacingAndGlyphs">2</text>
<text x="263.55" y="337.50" font-size="6.8" textLength="52.46" lengthAdjust="spacingAndGlyphs">No chemotherapy</text>
<text x="324.97" y="337.50" font-size="7.0" textLength="8.41" lengthAdjust="spacingAndGlyphs">27</text>
<text x="362.13" y="337.50" font-size="7.0" textLength="4.20" lengthAdjust="spacingAndGlyphs">6</text>
<text x="397.93" y="337.50" font-size="7.0" textLength="4.20" lengthAdjust="spacingAndGlyphs">3</text>
<text x="433.23" y="337.50" font-size="7.0" textLength="4.20" lengthAdjust="spacingAndGlyphs">3</text>
<text x="469.28" y="337.50" font-size="7.0" textLength="4.20" lengthAdjust="spacingAndGlyphs">2</text>
<text x="504.99" y="337.50" font-size="7.0" textLength="4.20" lengthAdjust="spacingAndGlyphs">0</text>
<text x="12.60" y="361.40" font-size="11.8" textLength="7.01" lengthAdjust="spacingAndGlyphs" font-weight="bold" class="lt">E</text>
<text x="148.44" y="350.20" font-size="9.5" textLength="15.59" lengthAdjust="spacingAndGlyphs">Frail</text>
<text x="45.10" y="433.65" font-size="8.2" textLength="14.79" lengthAdjust="spacingAndGlyphs" class="tk">0.00</text>
<text x="45.10" y="414.60" font-size="8.2" textLength="14.82" lengthAdjust="spacingAndGlyphs" class="tk">0.25</text>
<text x="45.10" y="395.55" font-size="8.2" textLength="14.79" lengthAdjust="spacingAndGlyphs" class="tk">0.50</text>
<text x="45.10" y="376.50" font-size="8.2" textLength="14.82" lengthAdjust="spacingAndGlyphs" class="tk">0.75</text>
<text x="44.81" y="357.45" font-size="8.2" textLength="15.09" lengthAdjust="spacingAndGlyphs" class="tk">1.00</text>
<text x="64.26" y="446.55" font-size="7.0" textLength="4.48" lengthAdjust="spacingAndGlyphs">0</text>
<text x="99.85" y="446.55" font-size="7.0" textLength="4.48" lengthAdjust="spacingAndGlyphs">1</text>
<text x="135.66" y="446.55" font-size="7.0" textLength="4.48" lengthAdjust="spacingAndGlyphs">2</text>
<text x="171.39" y="446.55" font-size="7.0" textLength="4.48" lengthAdjust="spacingAndGlyphs">3</text>
<text x="207.09" y="446.55" font-size="7.0" textLength="4.48" lengthAdjust="spacingAndGlyphs">4</text>
<text x="242.77" y="446.55" font-size="7.0" textLength="4.48" lengthAdjust="spacingAndGlyphs">5</text>
<text x="138.96" y="458.30" font-size="8.4" textLength="34.93" lengthAdjust="spacingAndGlyphs" class="ax">Time (years)</text>
<text class="ax" x="39.90" y="392.30" font-size="8.6" text-anchor="middle" textLength="41.90" lengthAdjust="spacingAndGlyphs" transform="rotate(-90 39.90 392.30)">Overall survival</text>
<text x="206.75" y="356.22" font-size="7" textLength="43.89" lengthAdjust="spacingAndGlyphs">R-CHOP&gt;80%</text>
<text x="206.75" y="363.82" font-size="7" textLength="43.90" lengthAdjust="spacingAndGlyphs">R-CHOP≤80%</text>
<text x="207.29" y="371.62" font-size="7" textLength="50.69" lengthAdjust="spacingAndGlyphs">Anthracycline-free</text>
<text x="206.78" y="379.22" font-size="7" textLength="49.93" lengthAdjust="spacingAndGlyphs">No chemotherapy</text>
<text x="66.16" y="434.65" font-size="6.8" textLength="174.67" lengthAdjust="spacingAndGlyphs">2-year OS: R-CHOP≤80% vs Anthracycline-free, <tspan font-style="italic">P</tspan>=0.009</text>
<text x="12.36" y="464.30" font-size="6.8" textLength="43.03" lengthAdjust="spacingAndGlyphs">Number at risk</text>
<text x="10.53" y="474.50" font-size="6.8" textLength="45.11" lengthAdjust="spacingAndGlyphs">R-CHOP&gt;80%</text>
<text x="64.21" y="474.50" font-size="7.0" textLength="8.41" lengthAdjust="spacingAndGlyphs">15</text>
<text x="102.63" y="474.50" font-size="7.0" textLength="4.20" lengthAdjust="spacingAndGlyphs">6</text>
<text x="137.93" y="474.50" font-size="7.0" textLength="4.20" lengthAdjust="spacingAndGlyphs">6</text>
<text x="171.03" y="474.50" font-size="7.0" textLength="4.20" lengthAdjust="spacingAndGlyphs">6</text>
<text x="207.22" y="474.50" font-size="7.0" textLength="4.20" lengthAdjust="spacingAndGlyphs">4</text>
<text x="242.22" y="474.50" font-size="7.0" textLength="4.20" lengthAdjust="spacingAndGlyphs">4</text>
<text x="10.53" y="483.20" font-size="6.8" textLength="45.12" lengthAdjust="spacingAndGlyphs">R-CHOP≤80%</text>
<text x="64.22" y="483.20" font-size="7.0" textLength="8.41" lengthAdjust="spacingAndGlyphs">48</text>
<text x="98.45" y="483.20" font-size="7.0" textLength="8.41" lengthAdjust="spacingAndGlyphs">19</text>
<text x="133.69" y="483.20" font-size="7.0" textLength="8.41" lengthAdjust="spacingAndGlyphs">10</text>
<text x="171.02" y="483.20" font-size="7.0" textLength="4.20" lengthAdjust="spacingAndGlyphs">8</text>
<text x="207.38" y="483.20" font-size="7.0" textLength="4.20" lengthAdjust="spacingAndGlyphs">7</text>
<text x="242.31" y="483.20" font-size="7.0" textLength="4.20" lengthAdjust="spacingAndGlyphs">5</text>
<text x="3.09" y="491.40" font-size="6.8" textLength="52.60" lengthAdjust="spacingAndGlyphs">Anthracycline-free</text>
<text x="64.26" y="491.40" font-size="7.0" textLength="8.41" lengthAdjust="spacingAndGlyphs">81</text>
<text x="98.31" y="491.40" font-size="7.0" textLength="8.41" lengthAdjust="spacingAndGlyphs">14</text>
<text x="137.95" y="491.40" font-size="7.0" textLength="4.20" lengthAdjust="spacingAndGlyphs">9</text>
<text x="171.03" y="491.40" font-size="7.0" textLength="4.20" lengthAdjust="spacingAndGlyphs">6</text>
<text x="207.22" y="491.40" font-size="7.0" textLength="4.20" lengthAdjust="spacingAndGlyphs">4</text>
<text x="242.22" y="491.40" font-size="7.0" textLength="4.20" lengthAdjust="spacingAndGlyphs">4</text>
<text x="2.85" y="499.70" font-size="6.8" textLength="52.56" lengthAdjust="spacingAndGlyphs">No chemotherapy</text>
<text x="59.98" y="499.70" font-size="7.0" textLength="12.61" lengthAdjust="spacingAndGlyphs">110</text>
<text x="98.41" y="499.70" font-size="7.0" textLength="8.41" lengthAdjust="spacingAndGlyphs">15</text>
<text x="137.98" y="499.70" font-size="7.0" textLength="4.20" lengthAdjust="spacingAndGlyphs">7</text>
<text x="171.03" y="499.70" font-size="7.0" textLength="4.20" lengthAdjust="spacingAndGlyphs">3</text>
<text x="207.38" y="499.70" font-size="7.0" textLength="4.20" lengthAdjust="spacingAndGlyphs">2</text>
<text x="242.36" y="499.70" font-size="7.0" textLength="4.20" lengthAdjust="spacingAndGlyphs">1</text>
<text x="277.50" y="360.30" font-size="11.8" textLength="7.34" lengthAdjust="spacingAndGlyphs" font-weight="bold" class="lt">F</text>
<text x="407.71" y="350.50" font-size="9.5" textLength="16.35" lengthAdjust="spacingAndGlyphs">Frail</text>
<text x="302.80" y="433.75" font-size="8.2" textLength="14.79" lengthAdjust="spacingAndGlyphs" class="tk">0.00</text>
<text x="302.80" y="414.68" font-size="8.2" textLength="14.82" lengthAdjust="spacingAndGlyphs" class="tk">0.25</text>
<text x="302.80" y="395.60" font-size="8.2" textLength="14.79" lengthAdjust="spacingAndGlyphs" class="tk">0.50</text>
<text x="302.80" y="376.52" font-size="8.2" textLength="14.82" lengthAdjust="spacingAndGlyphs" class="tk">0.75</text>
<text x="302.51" y="357.45" font-size="8.2" textLength="15.09" lengthAdjust="spacingAndGlyphs" class="tk">1.00</text>
<text x="324.06" y="446.55" font-size="7.0" textLength="4.48" lengthAdjust="spacingAndGlyphs">0</text>
<text x="359.55" y="446.55" font-size="7.0" textLength="4.48" lengthAdjust="spacingAndGlyphs">1</text>
<text x="395.26" y="446.55" font-size="7.0" textLength="4.48" lengthAdjust="spacingAndGlyphs">2</text>
<text x="430.89" y="446.55" font-size="7.0" textLength="4.48" lengthAdjust="spacingAndGlyphs">3</text>
<text x="466.49" y="446.55" font-size="7.0" textLength="4.48" lengthAdjust="spacingAndGlyphs">4</text>
<text x="502.07" y="446.55" font-size="7.0" textLength="4.48" lengthAdjust="spacingAndGlyphs">5</text>
<text x="398.46" y="458.30" font-size="8.4" textLength="34.93" lengthAdjust="spacingAndGlyphs" class="ax">Time (years)</text>
<text class="ax2" x="297.20" y="391.90" font-size="8.2" text-anchor="middle" textLength="63.05" lengthAdjust="spacingAndGlyphs" transform="rotate(-90 297.20 391.90)">Progression-free survival</text>
<text x="451.80" y="357.32" font-size="7" textLength="47.86" lengthAdjust="spacingAndGlyphs">R-CHOP&gt;80%</text>
<text x="451.80" y="365.12" font-size="7" textLength="47.87" lengthAdjust="spacingAndGlyphs">R-CHOP≤80%</text>
<text x="452.39" y="372.02" font-size="7" textLength="54.51" lengthAdjust="spacingAndGlyphs">Anthracycline-free</text>
<text x="451.83" y="379.22" font-size="7" textLength="54.38" lengthAdjust="spacingAndGlyphs">No chemotherapy</text>
<text x="326.26" y="434.55" font-size="6.8" textLength="175.28" lengthAdjust="spacingAndGlyphs">2-year PFS: R-CHOP≤80% vs Anthracycline-free, <tspan font-style="italic">P</tspan>=0.007</text>
<text x="267.75" y="464.30" font-size="6.8" textLength="43.24" lengthAdjust="spacingAndGlyphs">Number at risk</text>
<text x="265.22" y="474.50" font-size="6.8" textLength="46.03" lengthAdjust="spacingAndGlyphs">R-CHOP&gt;80%</text>
<text x="324.61" y="474.50" font-size="7.0" textLength="8.41" lengthAdjust="spacingAndGlyphs">15</text>
<text x="361.63" y="474.50" font-size="7.0" textLength="4.20" lengthAdjust="spacingAndGlyphs">6</text>
<text x="396.03" y="474.50" font-size="7.0" textLength="4.20" lengthAdjust="spacingAndGlyphs">6</text>
<text x="431.42" y="474.50" font-size="7.0" textLength="4.20" lengthAdjust="spacingAndGlyphs">4</text>
<text x="467.33" y="474.50" font-size="7.0" textLength="4.20" lengthAdjust="spacingAndGlyphs">3</text>
<text x="502.33" y="474.50" font-size="7.0" textLength="4.20" lengthAdjust="spacingAndGlyphs">3</text>
<text x="265.22" y="483.20" font-size="6.8" textLength="46.03" lengthAdjust="spacingAndGlyphs">R-CHOP≤80%</text>
<text x="324.62" y="483.20" font-size="7.0" textLength="8.41" lengthAdjust="spacingAndGlyphs">48</text>
<text x="357.42" y="483.20" font-size="7.0" textLength="8.41" lengthAdjust="spacingAndGlyphs">16</text>
<text x="396.05" y="483.20" font-size="7.0" textLength="4.20" lengthAdjust="spacingAndGlyphs">9</text>
<text x="431.52" y="483.20" font-size="7.0" textLength="4.20" lengthAdjust="spacingAndGlyphs">8</text>
<text x="467.38" y="483.20" font-size="7.0" textLength="4.20" lengthAdjust="spacingAndGlyphs">7</text>
<text x="502.31" y="483.20" font-size="7.0" textLength="4.20" lengthAdjust="spacingAndGlyphs">5</text>
<text x="258.29" y="491.40" font-size="6.8" textLength="53.01" lengthAdjust="spacingAndGlyphs">Anthracycline-free</text>
<text x="324.66" y="491.40" font-size="7.0" textLength="8.41" lengthAdjust="spacingAndGlyphs">81</text>
<text x="357.46" y="491.40" font-size="7.0" textLength="8.41" lengthAdjust="spacingAndGlyphs">11</text>
<text x="396.02" y="491.40" font-size="7.0" textLength="4.20" lengthAdjust="spacingAndGlyphs">8</text>
<text x="431.53" y="491.40" font-size="7.0" textLength="4.20" lengthAdjust="spacingAndGlyphs">6</text>
<text x="467.22" y="491.40" font-size="7.0" textLength="4.20" lengthAdjust="spacingAndGlyphs">4</text>
<text x="502.22" y="491.40" font-size="7.0" textLength="4.20" lengthAdjust="spacingAndGlyphs">4</text>
<text x="258.55" y="499.70" font-size="6.8" textLength="52.46" lengthAdjust="spacingAndGlyphs">No chemotherapy</text>
<text x="320.38" y="499.70" font-size="7.0" textLength="12.61" lengthAdjust="spacingAndGlyphs">110</text>
<text x="357.31" y="499.70" font-size="7.0" textLength="8.41" lengthAdjust="spacingAndGlyphs">14</text>
<text x="396.03" y="499.70" font-size="7.0" textLength="4.20" lengthAdjust="spacingAndGlyphs">6</text>
<text x="431.58" y="499.70" font-size="7.0" textLength="4.20" lengthAdjust="spacingAndGlyphs">2</text>
<text x="467.36" y="499.70" font-size="7.0" textLength="4.20" lengthAdjust="spacingAndGlyphs">1</text>
<text x="502.36" y="499.70" font-size="7.0" textLength="4.20" lengthAdjust="spacingAndGlyphs">1</text>
</g>
<rect x="0" y="0" width="520" height="1.3" fill="#000"/>
<rect x="0" y="0" width="1.2" height="513.8" fill="#000"/>
<rect x="518.85" y="0" width="1.15" height="516" fill="#000"/>
<polygon points="0,512.3 520,514.3 520,516 0,513.8" fill="#000"/>
</g>
</svg>
</body></html>
